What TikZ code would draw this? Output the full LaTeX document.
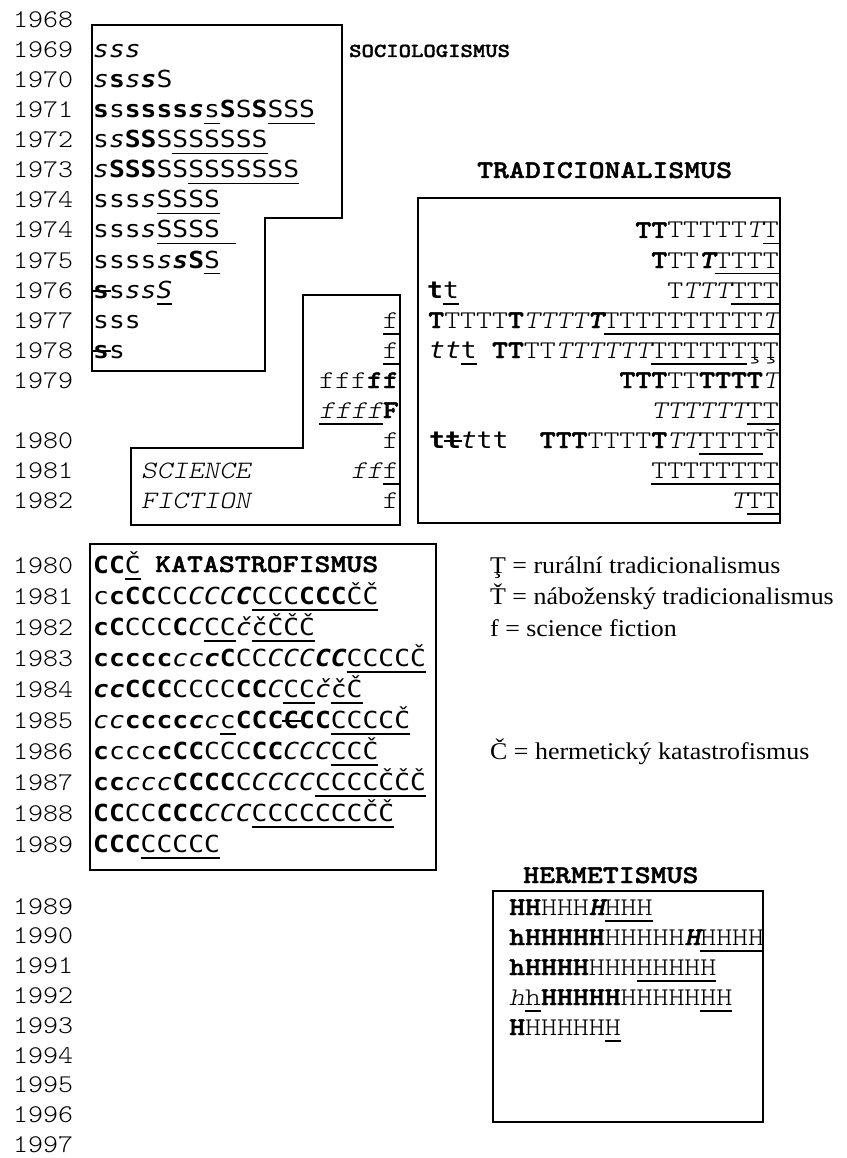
\documentclass[tikz,border=0pt]{standalone}
\usepackage{fontspec}
\setmainfont{Liberation Serif}
\newfontfamily\cmono[Extension=.otf, UprightFont=*-regular, BoldFont=*-bold, ItalicFont=*-oblique, BoldItalicFont=*-boldoblique, FakeStretch=1.19, BoldFeatures={FakeBold=1.6}, BoldItalicFeatures={FakeBold=1.6}]{lmmonolt10}
\newfontfamily\ymono[Extension=.otf, UprightFont=*-regular, BoldFont=*-bold, ItalicFont=*-oblique, BoldItalicFont=*-boldoblique, FakeStretch=1.12]{lmmonolt10}
\newfontfamily\dvs[FakeStretch=1.12]{DejaVu Sans Mono}
\newfontfamily\legfont[FakeStretch=1.08]{Liberation Serif}
\newcommand\xB[1]{{\bfseries #1}}
\newcommand\xI[1]{{\itshape #1}}
\newcommand\xBI[1]{{\bfseries\itshape #1}}
\newcommand\xU[1]{\setbox0\hbox{#1}\rlap{\copy0}\rule[-6.5pt]{\wd0}{1.3pt}}
\newcommand\xS[1]{\setbox0\hbox{#1}\rlap{\copy0}\kern-1.5pt\rule[0.27em]{\dimexpr\wd0+3pt\relax}{1.6pt}\kern-1.5pt}
\tikzset{
  yr/.style={anchor=base west, inner sep=0pt, font=\ymono\fontsize{25.5}{30}\selectfont},
  srow/.style={anchor=base west, inner sep=0pt, font=\dvs\fontsize{23.5}{30}\selectfont},
  mrow/.style={anchor=base west, inner sep=0pt, font=\cmono\fontsize{25.5}{30}\selectfont},
  mrowr/.style={anchor=base east, inner sep=0pt, font=\cmono\fontsize{25.5}{30}\selectfont},
  head/.style={anchor=base west, inner sep=0pt, font=\cmono\bfseries\fontsize{25.5}{30}\selectfont},
  leg/.style={anchor=base west, inner sep=0pt, font=\legfont\fontsize{24}{30}\selectfont},
  frame/.style={draw, line width=1.3pt},
  thickframe/.style={draw, line width=1.8pt},
}
\begin{document}
\begin{tikzpicture}[x=1pt,y=-1pt]
\useasboundingbox (0,0) rectangle (846,1158);
% year labels
\foreach \t [count=\i from 0] in {1968,1969,1970,1971,1972,1973,1974,1974,1975,1976,1977,1978,1979,{},1980,1981,1982}
  \node[yr] (ya\i) at (13,{28+30*\i}) {\t};
\foreach \t [count=\i from 0] in {1980,1981,1982,1983,1984,1985,1986,1987,1988,1989}
  \node[yr] (yb\i) at (13,{573+31*\i}) {\t};
\foreach \t [count=\i from 0] in {1989,1990,1991,1992,1993,1994,1995,1996,1997}
  \node[yr] (yc\i) at (13,{914+29.8*\i}) {\t};
% frames
\draw[frame] (92,25) -- (342,25) -- (342,218) -- (265,218) -- (265,371) -- (92,371) -- cycle;
\draw[frame] (303,295) -- (400,295) -- (400,525) -- (131,525) -- (131,448) -- (303,448) -- cycle;
\draw[thickframe] (418,198) rectangle (780,523);
\draw[frame] (90,544) rectangle (436,870);
\draw[thickframe] (493,891) rectangle (763,1122);
% headings
\node[anchor=base west, inner sep=0pt, font=\cmono\bfseries\fontsize{19.8}{24}\selectfont] (hs) at (349,57) {SOCIOLOGISMUS};
\node[head] (ht) at (477,178) {TRADICIONALISMUS};
\node[head] (hk) at (155,572) {KATASTROFISMUS};
\node[head] (hh) at (523,883) {HERMETISMUS};
% sociologismus
\node[srow] (s1) at (93,58) {\xI{sss}};
\node[srow] (s2) at (93,88) {\xI{s}\xB{s}\xI{s}\xBI{s}S};
\node[srow] (s3) at (93,118) {\xB{s}s\xB{ssss}\xBI{s}\xU{s}\xB{S}S\xB{S}\xU{SSS}};
\node[srow] (s4) at (93,148) {s\xI{s}\xB{SS}S\xU{SSSSSS}};
\node[srow] (s5) at (93,178) {\xI{s}\xB{SSS}SS\xU{SSSSSSS}};
\node[srow] (s6) at (93,208) {sss\xI{s}\xU{SSSS}};
\node[srow] (s7) at (93,238) {sss\xI{s}\xU{SSSS\ }};
\node[srow] (s8) at (93,268) {ssss\xI{s}\xBI{s}\xB{S}\xU{S}};
\node[srow] (s9) at (93,298) {\xS{\xB{s}}s\xI{ss}\xU{\xI{S}}};
\node[srow] (s10) at (93,328) {sss};
\node[srow] (s11) at (93,358) {\xS{\xB{s}}s};
% science fiction
\node[mrowr] (f10) at (399,328) {\xU{f}};
\node[mrowr] (f11) at (399,358) {\xU{f}};
\node[mrowr] (f12) at (399,388) {fff\xB{ff}};
\node[mrowr] (f13) at (399,418) {\xU{\xI{ffff}}\xB{F}};
\node[mrowr] (f14) at (399,448) {f};
\node[mrowr] (f15) at (399,478) {\xI{ff}\xU{f}};
\node[mrowr] (f16) at (399,508) {f};
\node[mrow, font=\cmono\itshape\fontsize{25}{30}\selectfont] (sci) at (141,478) {SCIENCE};
\node[mrow, font=\cmono\itshape\fontsize{25}{30}\selectfont] (fic) at (141,508) {FICTION};
% tradicionalismus
\node[mrowr] (t0) at (779,238) {\xB{TT}TTTTT\xI{T}\xU{T}};
\node[mrowr] (t1) at (779,268) {\xB{T}TT\xBI{T}\xU{TTTT}};
\node[mrowr] (t2) at (779,298) {T\xI{TTT}\xU{TTT}};
\node[srow] (tl2) at (427,298) {\xB{t}\xU{t}};
\node[mrowr] (t3) at (779,328) {\xB{T}TTTT\xB{T}\xI{TTTT}\xBI{T}\xU{TTTTTTTTTT\xI{T}}};
\node[mrowr] (t4) at (779,358) {\xB{TT}TT\xI{TTTTTT}\xU{TTTTTT}ŢŢ};
\node[srow] (tl4) at (429,358) {\xI{tt}\xU{t}};
\node[mrowr] (t5) at (779,388) {\xB{TTT}TT\xB{TTTT}\xI{T}};
\node[mrowr] (t6) at (779,418) {\xI{TTTTTT}\xU{TT}};
\node[mrowr] (t7) at (779,448) {\xB{TTT}TTTT\xB{T}\xI{TT}\xU{TTTT}Ť};
\node[srow] (tl7) at (429,448) {\xB{t}\xS{\xB{t}}\xI{t}tt};
\node[mrowr] (t8) at (779,478) {\xU{TTTTTTTT}};
\node[mrowr] (t9) at (779,508) {\xI{T}\xU{TT}};
% katastrofismus
\node[srow] (k0) at (93,573) {\xB{CC}\xU{Č}};
\node[srow] (k1) at (93,604) {c\xB{cCC}CC\xI{CCC}\xBI{C}\xU{CCC\xB{CCC}ČČ}};
\node[srow] (k2) at (93,635) {\xB{cC}CCC\xB{C}\xI{C}\xU{CC}\xI{č}\xU{čČČČ}};
\node[srow] (k3) at (93,666) {\xB{ccccc}\xI{cc}\xBI{c}\xB{C}CC\xI{CCC}\xBI{CC}\xU{CCCCČ}};
\node[srow] (k4) at (93,697) {\xBI{cc}\xB{CCC}CCCC\xB{CC}\xI{C}\xU{CC}\xI{č}\xU{čČ}};
\node[srow] (k5) at (93,728) {\xI{cc}\xB{cccc}\xBI{c}\xI{c}\xU{c}\xB{CCC}\xS{\xB{C}}\xB{CC}\xU{CCCCČ}};
\node[srow] (k6) at (93,759) {\xB{c}ccc\xB{cCC}CCC\xB{CC}\xI{CCC}\xU{CCČ}};
\node[srow] (k7) at (93,790) {\xB{cc}\xI{ccc}\xB{CCCC}C\xI{CCCC}\xU{CCCCČČČ}};
\node[srow] (k8) at (93,821) {\xB{CC}CC\xB{CCC}\xI{CCC}\xU{CCCCCCCČČ}};
\node[srow] (k9) at (93,852) {\xB{CCC}\xU{CCCCC}};
% hermetismus
\node[mrow] (h0) at (509,915) {\xB{HH}HHH\xBI{H}\xU{HHH}};
\node[mrow] (h1) at (509,945) {\xB{hHHHHH}HHHHH\xBI{H}\xU{HHHH}};
\node[mrow] (h2) at (509,975) {\xB{hHHHH}HHH\xU{HHHHH}};
\node[mrow] (h3) at (509,1005) {\xI{h}\xU{h}\xB{HHHHH}HHHHH\xU{HH}};
\node[mrow] (h4) at (509,1035) {\xB{H}HHHHH\xU{H}};
% legend
\node[leg] (l1) at (490,573) {Ţ = rurální tradicionalismus};
\node[leg] (l2) at (490,604) {Ť = náboženský tradicionalismus};
\node[leg] (l3) at (490,636) {f = science fiction};
\node[leg] (l4) at (490,759) {Č = hermetický katastrofismus};
\end{tikzpicture}
\end{document}
